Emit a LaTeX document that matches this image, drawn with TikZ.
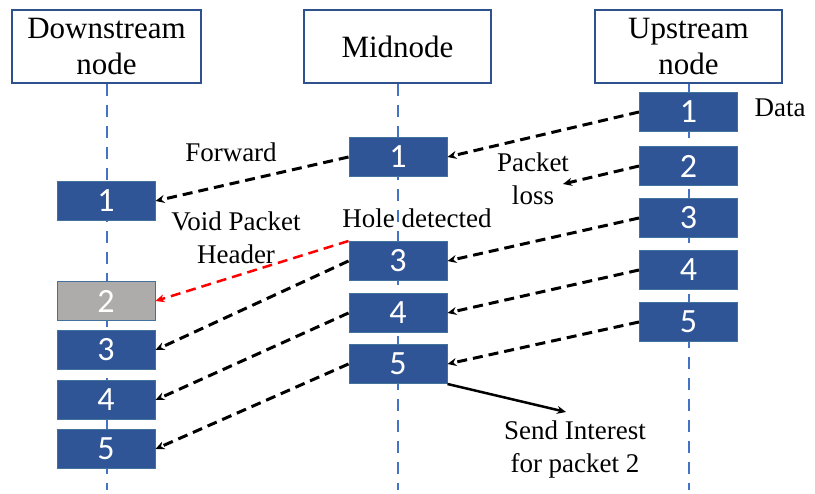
\documentclass[tikz,border=0pt]{standalone}
\usepackage{fontspec}
\setmainfont{Liberation Serif}
\newfontfamily\numfont{Carlito}
\usetikzlibrary{arrows.meta}
\definecolor{pktblue}{HTML}{2F5597}
\definecolor{pktedge}{HTML}{41719C}
\definecolor{holegray}{HTML}{AEABAB}
\definecolor{lifeblue}{HTML}{4472C4}
\definecolor{headedge}{HTML}{2F528F}

\begin{document}
\begin{tikzpicture}[x=1pt,y=-1pt]
\tikzstyle{every node}=[inner sep=0pt, align=center]
\tikzstyle{head}=[draw=headedge, line width=2pt, fill=white, minimum width=187pt, minimum height=73pt, font=\fontsize{31}{36}\selectfont]
\tikzstyle{pkt}=[draw=pktedge, line width=1pt, fill=pktblue, text=white, minimum width=98pt, minimum height=39pt, font=\numfont\fontsize{34}{34}\selectfont]
\tikzstyle{lost}=[pkt, fill=holegray]
\tikzstyle{lbl}=[font=\fontsize{27}{33}\selectfont]
\tikzstyle{life}=[lifeblue, line width=2.6pt, dash pattern=on 12pt off 9pt]
\tikzstyle{fwd}=[-{Stealth[length=9pt,width=8pt]}, line width=3pt, dash pattern=on 10pt off 6pt]
\useasboundingbox (0,0) rectangle (815,494);
% column heads and life lines
\draw (106.5,46.5) node (down) [head, minimum width=189pt] {Downstream\\node};
\draw (397.5,46.5) node (mid) [head] {Midnode};
\draw (688.5,46.5) node (up) [head] {Upstream\\node};
\coordinate (downend) at (107,490);
\coordinate (midend) at (398,490);
\coordinate (upend) at (689,490);
\draw[life] (down.south -| downend) -- (downend);
\draw[life] (mid.south -| midend) -- (midend);
\draw[life] (up.south -| upend) -- (upend);
% upstream packets
\draw (688.5,112) node (u1) [pkt] {1};
\draw (688.5,166) node (u2) [pkt] {2};
\draw (688.5,218) node (u3) [pkt] {3};
\draw (688.5,270) node (u4) [pkt] {4};
\draw (688.5,322) node (u5) [pkt] {5};
% midnode packets
\draw (398,157) node (m1) [pkt] {1};
\draw (398,261) node (m3) [pkt] {3};
\draw (398,313) node (m4) [pkt] {4};
\draw (398,364) node (m5) [pkt] {5};
% downstream packets
\draw (106,201) node (d1) [pkt] {1};
\draw (106,301) node (d2) [lost] {2};
\draw (106,350) node (d3) [pkt] {3};
\draw (106,400) node (d4) [pkt] {4};
\draw (106,449) node (d5) [pkt] {5};
% labels
\draw (780,108) node (data) [lbl] {Data};
\draw (231,152) node (forward) [lbl] {Forward};
\draw (533,179) node (losstxt) [lbl] {Packet\\loss};
\draw (236,238) node (void) [lbl] {Void Packet\\Header};
\draw (417,218) node (hole) [lbl] {Hole detected};
\draw (575,450) node (interest) [lbl] {Send Interest\\for packet 2};
\coordinate (loss) at (563,184);
\coordinate (ask) at (566,412);
% transfers
\draw[fwd] (u1.west) -- (m1.east);
\draw[fwd] (m1.west) -- (d1.east);
\draw[fwd] (u2.west) -- (loss);
\draw[fwd] (u3.west) -- (m3.east);
\draw[fwd] (u4.west) -- (m4.east);
\draw[fwd] (u5.west) -- (m5.east);
\draw[fwd, red, line width=2.5pt] (m3.north west) -- (d2.east);
\draw[fwd] (m3.west) -- (d3.east);
\draw[fwd] (m4.west) -- (d4.east);
\draw[fwd] (m5.west) -- (d5.east);
\draw[-{Stealth[length=9pt,width=8pt]}, line width=2.5pt] (m5.south east) -- (ask);
\end{tikzpicture}
\end{document}
